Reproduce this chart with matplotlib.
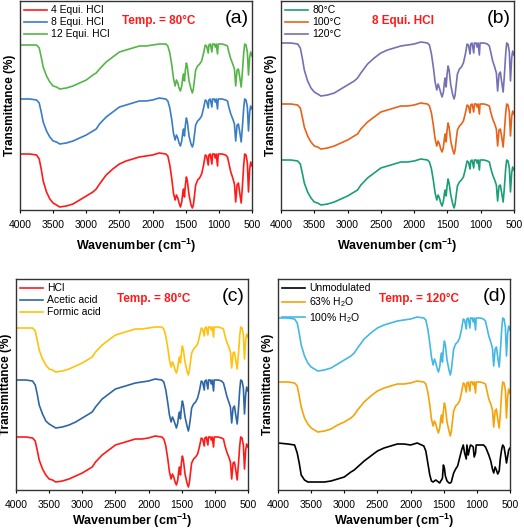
import matplotlib
matplotlib.use("Agg")
import matplotlib.pyplot as plt

plt.rcParams['font.family'] = ['Liberation Sans', 'DejaVu Sans']
plt.rcParams['mathtext.fontset'] = 'custom'
plt.rcParams['mathtext.rm'] = 'Liberation Sans'
plt.rcParams['mathtext.bf'] = 'Liberation Sans:bold'
plt.rcParams['mathtext.default'] = 'regular'

# wavenumber grid (cm-1) shared by all spectra
wn = [4000, 3850, 3750, 3710, 3680, 3650, 3600, 3550, 3500, 3450,
      3400, 3300, 3200, 3100, 3000, 2900, 2850, 2800, 2700, 2600,
      2500, 2400, 2300, 2200, 2100, 2000, 1900, 1800, 1770, 1740,
      1710, 1685, 1660, 1640, 1620, 1600, 1580, 1560, 1545, 1533,
      1519, 1505, 1490, 1475, 1450, 1420, 1400, 1385, 1370, 1350,
      1320, 1290, 1260, 1230, 1205, 1185, 1160, 1150, 1130, 1105,
      1095, 1070, 1055, 1040, 1020, 1010, 950, 900, 870, 850,
      820, 790, 765, 746, 725, 705, 685, 663, 645, 625,
      610, 590, 570, 553, 535, 520, 500]

# transmittance (a.u.)
a_4eq = [53, 53, 52, 48, 38, 26, 15, 8, 4, 2,
         0, 1, 3, 7, 11, 15, 18, 23, 32, 38,
         43, 46, 48, 50, 51, 52, 54, 53, 51, 42,
         28, 14, 7, 12, 9, 4, 0, 5, 14, 18,
         10, 22, 30, 26, 12, 2, -1, 2, 10, 22,
         27, 29, 33, 42, 52, 51, 42, 52, 53, 43,
         53, 53, 49, 53, 41, 53, 53, 52, 50, 44,
         35, 29, 23, 5, 22, 24, 14, 4, 20, 42,
         53, 52, 44, 15, 38, 45, 41]
a_8eq = [45, 45, 44, 41, 32, 22, 13, 7, 3, 2,
         0, 1, 3, 6, 9, 13, 15, 20, 27, 32,
         37, 39, 41, 43, 43, 44, 46, 45, 43, 36,
         24, 11, 4, 9, 6, 1, -2, 3, 11, 15,
         8, 19, 26, 22, 8, 0, -3, 0, 8, 19,
         23, 25, 28, 36, 44, 43, 36, 44, 45, 37,
         45, 45, 42, 45, 35, 45, 45, 44, 43, 37,
         30, 25, 20, 3, 19, 20, 12, 2, 17, 36,
         45, 44, 37, 13, 32, 38, 35]
a_12eq = [44, 44, 44, 41, 32, 22, 13, 7, 3, 2,
          0, 1, 3, 6, 9, 14, 16, 20, 27, 32,
          37, 39, 41, 43, 43, 44, 45, 45, 43, 36,
          24, 11, 3, 9, 6, 1, -2, 3, 11, 15,
          8, 19, 26, 22, 8, 0, -4, 0, 8, 19,
          23, 25, 28, 36, 44, 43, 36, 44, 45, 37,
          45, 45, 42, 45, 35, 45, 45, 44, 43, 37,
          30, 25, 20, 3, 19, 20, 12, 2, 17, 36,
          45, 44, 37, 14, 32, 37, 33]

b_80 = [45, 45, 44, 41, 32, 22, 13, 7, 3, 2,
        0, 1, 3, 6, 9, 13, 15, 20, 27, 32,
        37, 39, 41, 43, 43, 44, 46, 45, 43, 36,
        24, 12, 5, 10, 7, 2, -1, 4, 12, 15,
        9, 19, 26, 22, 10, 1, -3, 1, 9, 19,
        23, 25, 28, 36, 44, 43, 36, 44, 45, 37,
        45, 45, 42, 45, 35, 45, 45, 44, 43, 37,
        30, 25, 20, 4, 19, 20, 12, 3, 17, 36,
        45, 44, 37, 13, 32, 38, 35]
b_100 = [45, 45, 44, 41, 32, 22, 13, 7, 3, 2,
         0, 1, 3, 6, 9, 13, 15, 20, 27, 32,
         37, 39, 41, 43, 43, 44, 46, 45, 43, 36,
         23, 10, 3, 8, 5, 0, -3, 2, 11, 15,
         7, 19, 26, 22, 8, -1, -5, -1, 8, 19,
         23, 25, 28, 36, 44, 43, 36, 44, 45, 37,
         45, 45, 42, 45, 35, 45, 45, 44, 43, 37,
         30, 25, 20, 3, 19, 20, 12, 2, 17, 36,
         45, 44, 37, 13, 32, 38, 35]
b_120 = [53, 53, 52, 48, 38, 26, 15, 8, 4, 2,
         0, 1, 3, 7, 11, 15, 18, 23, 32, 38,
         43, 46, 48, 50, 51, 52, 54, 53, 51, 42,
         28, 14, 6, 12, 8, 3, -1, 4, 14, 18,
         9, 22, 30, 26, 11, 1, -3, 1, 10, 22,
         27, 29, 33, 42, 52, 51, 42, 52, 53, 43,
         53, 53, 49, 53, 41, 53, 53, 52, 50, 44,
         35, 29, 23, 5, 22, 24, 14, 4, 20, 42,
         53, 52, 44, 15, 38, 45, 41]

c_hcl = [45, 45, 44, 41, 32, 22, 13, 7, 3, 2,
         0, 1, 3, 6, 9, 13, 15, 20, 27, 32,
         37, 39, 41, 43, 43, 44, 46, 45, 43, 36,
         23, 10, 3, 8, 5, 0, -3, 2, 11, 15,
         7, 19, 26, 22, 8, -1, -5, -1, 8, 19,
         23, 25, 28, 36, 44, 43, 36, 44, 45, 37,
         45, 45, 42, 45, 35, 45, 45, 44, 43, 37,
         30, 25, 20, 3, 19, 20, 12, 2, 17, 36,
         45, 44, 37, 13, 32, 38, 35]
c_acetic = [48, 48, 47, 43, 34, 23, 14, 7, 4, 2,
            0, 1, 3, 6, 10, 14, 16, 21, 29, 34,
            39, 41, 43, 45, 46, 47, 49, 48, 46, 38,
            25, 13, 6, 11, 8, 4, 0, 5, 13, 16,
            9, 20, 27, 23, 11, 2, -3, 2, 9, 20,
            24, 26, 30, 38, 47, 46, 38, 47, 48, 39,
            48, 48, 44, 48, 37, 48, 48, 47, 45, 40,
            32, 26, 21, 5, 20, 22, 13, 4, 18, 38,
            48, 47, 40, 14, 34, 41, 37]
c_formic = [44, 44, 44, 41, 32, 22, 13, 7, 3, 2,
            0, 1, 3, 6, 9, 13, 15, 20, 27, 32,
            37, 39, 41, 43, 43, 44, 45, 45, 43, 36,
            24, 12, 5, 10, 7, 2, -1, 4, 12, 15,
            9, 19, 26, 22, 10, 1, -3, 1, 9, 19,
            23, 25, 28, 36, 44, 43, 36, 44, 45, 37,
            45, 45, 42, 45, 35, 45, 45, 44, 43, 37,
            30, 25, 20, 4, 19, 20, 12, 3, 17, 36,
            45, 44, 37, 13, 32, 38, 35]

d_unmod = [40, 39, 38, 30, 20, 8, 3, 1, 1, 1,
           1, 1, 2, 4, 6, 11, 13, 16, 22, 27,
           32, 35, 37, 39, 39, 38, 40, 37, 32, 20,
           8, 2, 1, 2, 3, 2, 1, 0, 2, 3,
           5, 18, 15, 7, 2, 0, 0, 1, 5, 10,
           14, 17, 25, 33, 38, 30, 24, 38, 28, 36,
           38, 37, 36, 26, 30, 38, 38, 38, 36, 33,
           28, 22, 14, 10, 16, 13, 9, 12, 25, 34,
           38, 36, 28, 20, 27, 33, 35]
d_63 = [50, 50, 49, 46, 36, 25, 14, 8, 4, 2,
        0, 1, 3, 7, 10, 14, 17, 22, 30, 36,
        41, 44, 46, 48, 48, 49, 51, 50, 48, 40,
        27, 13, 6, 11, 8, 3, -1, 4, 13, 17,
        9, 21, 29, 25, 10, 1, -4, 1, 10, 21,
        26, 28, 31, 40, 49, 48, 40, 49, 50, 41,
        50, 50, 47, 50, 39, 50, 50, 49, 48, 42,
        33, 28, 22, 5, 21, 23, 13, 4, 19, 40,
        50, 49, 42, 14, 36, 43, 39]
d_100 = [53, 53, 52, 48, 38, 26, 15, 8, 4, 2,
         0, 1, 3, 7, 11, 15, 18, 23, 32, 38,
         43, 46, 48, 50, 51, 52, 54, 53, 51, 42,
         28, 14, 6, 12, 8, 3, -1, 4, 14, 18,
         9, 22, 30, 26, 11, 1, -4, 1, 10, 22,
         27, 29, 33, 42, 52, 51, 42, 52, 53, 43,
         53, 53, 49, 53, 41, 53, 53, 52, 50, 44,
         35, 29, 23, 5, 22, 24, 14, 4, 20, 42,
         53, 52, 44, 15, 38, 45, 41]

panels = [
    dict(rect=[20, 1, 252, 210], tag='(a)', note='Temp. = 80°C', note_x=0.44, lpad=5,
         series=[a_4eq, a_8eq, a_12eq], offsets=[3, 66, 121],
         labels=['4 Equi. HCl', '8 Equi. HCl', '12 Equi. HCl'],
         colors=['#ff1a1a', '#3a7dc4', '#55b548']),
    dict(rect=[281, 1, 514, 210], tag='(b)', note='8 Equi. HCl', note_x=0.39, lpad=5,
         series=[b_80, b_100, b_120], offsets=[5, 61, 114],
         labels=['80°C', '100°C', '120°C'],
         colors=['#1b9e77', '#e8621a', '#7570b3']),
    dict(rect=[16, 279, 248, 490], tag='(c)', note='Temp. = 80°C', note_x=0.434, lpad=1.5,
         series=[c_hcl, c_acetic, c_formic], offsets=[8, 62, 118],
         labels=['HCl', 'Acetic acid', 'Formic acid'],
         colors=['#ff1a1a', '#2f67a6', '#ffc20e']),
    dict(rect=[278, 279, 510, 490], tag='(d)', note='Temp. = 120°C', note_x=0.434, lpad=1.5,
         series=[d_unmod, d_63, d_100], offsets=[7, 58, 119],
         labels=['Unmodulated', '63% H$_2$O', '100% H$_2$O'],
         colors=['#000000', '#f5a30a', '#45b7e6']),
]

W, H = 524, 531
fig = plt.figure(figsize=(W / 100, H / 100), dpi=100)

for p in panels:
    x0, y0, x1, y1 = p['rect']
    ax = fig.add_axes([x0 / W, (H - y1) / H, (x1 - x0) / W, (y1 - y0) / H])
    for vals, off, lab, col in zip(p['series'], p['offsets'], p['labels'], p['colors']):
        ax.plot(wn, [v + off for v in vals], color=col, lw=1.2, label=lab)
    ax.set_xlim(4000, 500)
    ax.set_ylim(0, y1 - y0)
    ax.set_xticks(range(4000, 499, -500))
    ax.set_yticks([])
    ax.tick_params(axis='x', labelsize=7.5, length=2.5, width=0.8, pad=4.5, direction='out')
    for s in ax.spines.values():
        s.set_linewidth(1.0)
        s.set_color('#333333')
    ax.set_xlabel(r'Wavenumber (cm$^{\mathbf{-1}}$)', fontsize=9, fontweight='bold',
                  labelpad=p['lpad'])
    ax.set_ylabel('Transmittance (%)', fontsize=8.5, fontweight='bold', labelpad=3)
    ax.text(0.985, 0.915, p['tag'], transform=ax.transAxes, fontsize=14,
            ha='right', va='center')
    ax.text(p['note_x'], 0.905, p['note'], transform=ax.transAxes, fontsize=8.5,
            fontweight='bold', color='#ff1a1a', ha='left', va='center')
    ax.legend(loc='upper left', frameon=False, fontsize=7.5, handlelength=2.2,
              handletextpad=0.4, labelspacing=0.2, borderpad=0.2, borderaxespad=0.2)

fig.savefig('out.png', dpi=100)
